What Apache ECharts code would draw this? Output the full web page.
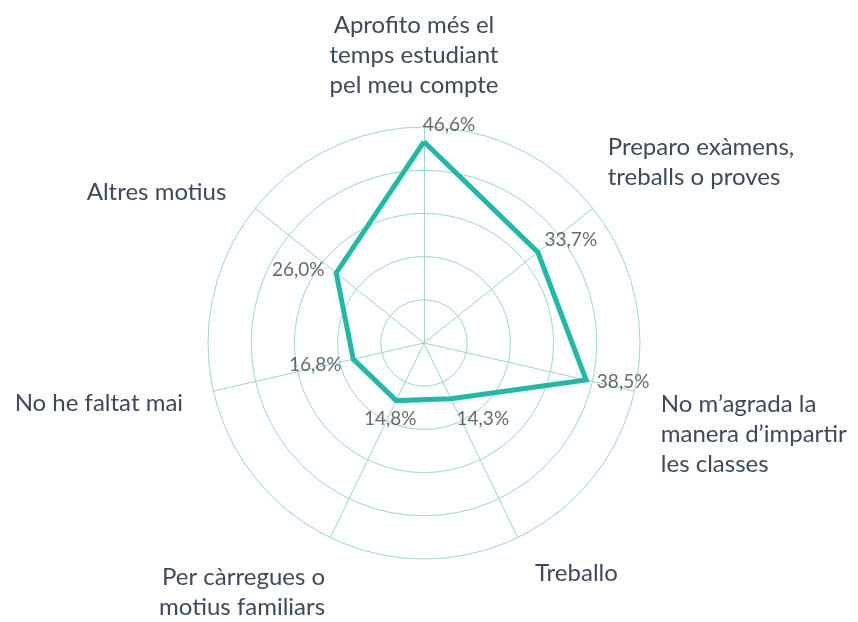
<!DOCTYPE html>
<html>
<head>
<meta charset="utf-8">
<script src="https://cdn.jsdelivr.net/npm/echarts@6/dist/echarts.min.js"></script>
<style>
  html, body { margin: 0; padding: 0; background: #fff; }
  #radar { width: 858px; height: 622px; }
</style>
</head>
<body>
<div id="radar"></div>
<script>
  // categories, clockwise from the top
  var categories = [
    'Aprofito més el\ntemps estudiant\npel meu compte',
    'Preparo exàmens,\ntreballs o proves',
    'No m’agrada la\nmanera d’impartir\nles classes',
    'Treballo',
    'Per càrregues o\nmotius familiars',
    'No he faltat mai',
    'Altres motius'
  ]
  var values = [46.6, 33.7, 38.5, 14.3, 14.8, 16.8, 26.0]
  var maxValue = 50

  // where each name / value label sits (styles only)
  var nameStyles = [
    { gap: 27, style: { align: 'center', verticalAlign: 'bottom', padding: [0, 20, 0, 0] } },
    { gap: 19, style: { align: 'left', verticalAlign: 'bottom', padding: [0, 0, 4, 0] } },
    { gap: -9, style: { align: 'left', verticalAlign: 'top', padding: [0, 0, 0, 35] } },
    { gap: 40, style: { align: 'left', verticalAlign: 'middle' } },
    { gap: 12, style: { align: 'right', verticalAlign: 'top', padding: [14, 0, 0, 0] } },
    { gap: -14, style: { align: 'right', verticalAlign: 'top', padding: [0, 44, 0, 0] } },
    { gap: 1, style: { align: 'right', verticalAlign: 'bottom', padding: [0, 28, 0, 0] } }
  ]
  var labelOffsets = [[25, -17], [33, -12], [37, 2], [32, 20], [-6, 18], [-38, 6], [-38, -3]]

  var teal = '#1fb9a6'
  var gridColor = '#9cd7ca'
  var textColor = '#3e4a5a'
  var cx = 424, cy = 343, r = 216

  // radar goes counter-clockwise, so walk the list backwards after the first one
  var order = [0, 6, 5, 4, 3, 2, 1]
  var indicators = order.map(function (i) {
    return {
      name: categories[i],
      max: maxValue,
      min: 0,
      nameGap: nameStyles[i].gap,
      nameTextStyle: nameStyles[i].style
    }
  })
  var radarValues = order.map(function (i) { return values[i] })

  var chart = echarts.init(document.getElementById('radar'))
  var option = {
    backgroundColor: '#fff',
    animation: false,
    radar: {
      center: [cx, cy],
      radius: r,
      startAngle: 90,
      shape: 'circle',
      splitNumber: 5,
      indicator: indicators,
      axisName: {
        color: textColor,
        fontFamily: 'Lato',
        fontSize: 24,
        lineHeight: 30
      },
      splitLine: { lineStyle: { color: gridColor, width: 1 } },
      axisLine: { lineStyle: { color: gridColor, width: 1 } },
      splitArea: { show: false },
      axisTick: { show: false },
      axisLabel: { show: false }
    },
    // polar system on top of the radar, only used to place the value labels
    polar: { center: [cx, cy], radius: r },
    angleAxis: {
      type: 'category',
      data: categories,
      startAngle: 90,
      clockwise: true,
      boundaryGap: false,
      show: false
    },
    radiusAxis: { min: 0, max: maxValue, show: false },
    series: [
      {
        type: 'radar',
        symbol: 'none',
        lineStyle: { color: teal, width: 5, join: 'miter' },
        data: [{ value: radarValues }]
      },
      {
        type: 'scatter',
        coordinateSystem: 'polar',
        symbolSize: 1,
        itemStyle: { color: 'rgba(0,0,0,0)' },
        label: {
          show: true,
          position: 'inside',
          color: '#3f4350',
          fontFamily: 'Lato',
          fontSize: 19,
          formatter: function (p) {
            return p.value[0].toFixed(1).replace('.', ',') + '%'
          }
        },
        data: values.map(function (v, i) {
          return { value: [v, i], label: { offset: labelOffsets[i] } }
        })
      }
    ]
  }
  chart.setOption(option)
</script>
</body>
</html>
